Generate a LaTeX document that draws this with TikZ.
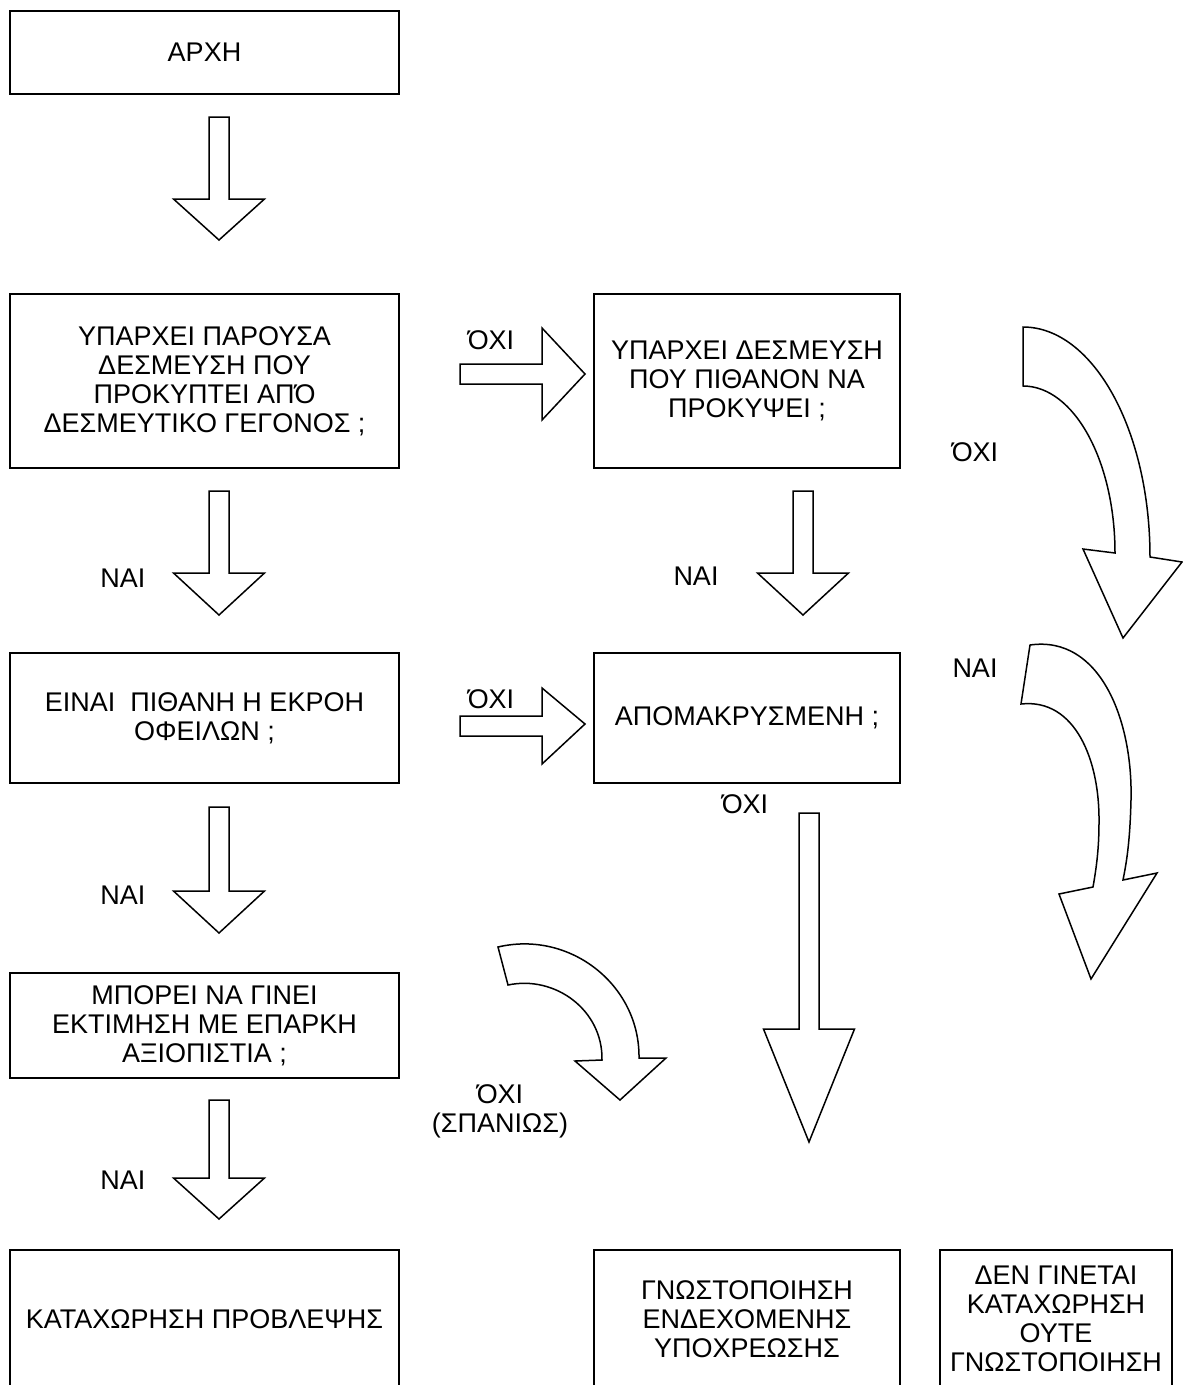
\documentclass[tikz,border=0pt]{standalone}
\usepackage{fontspec}
\setmainfont{Liberation Sans}
\newcommand\dnarrow[4]{% cx, shaft top, head y, tip y
  \draw[arr] (#1-10,#2) -- (#1+10,#2) -- (#1+10,#3) -- (#1+45.5,#3) -- (#1,#4)
    -- (#1-45.5,#3) -- (#1-10,#3) -- cycle;}
\begin{document}
\begin{tikzpicture}[x=1pt,y=-1pt,
  box/.style={draw,line width=2pt,inner sep=0pt,align=center,
    font=\fontsize{27}{29}\selectfont},
  lbl/.style={font=\fontsize{27}{29}\selectfont,align=center,inner sep=0pt},
  arr/.style={draw,line width=1.5pt,fill=white,line join=miter}]
\useasboundingbox (0,0) rectangle (1183,1385);
\clip (0,0) rectangle (1183,1385);
\fill[white] (0,0) rectangle (1183,1385);

% boxes
\node[box,minimum width=389pt,minimum height=83pt] (start) at (204.5,52.5) {ΑΡΧΗ};
\node[box,minimum width=389pt,minimum height=174pt] (q1) at (204.5,381)
  {ΥΠΑΡΧΕΙ ΠΑΡΟΥΣΑ\\ΔΕΣΜΕΥΣΗ ΠΟΥ\\ΠΡΟΚΥΠΤΕΙ ΑΠΌ\\ΔΕΣΜΕΥΤΙΚΟ ΓΕΓΟΝΟΣ ;};
\node[box,minimum width=306pt,minimum height=174pt] (q2) at (747,381)
  {ΥΠΑΡΧΕΙ ΔΕΣΜΕΥΣΗ\\ΠΟΥ ΠΙΘΑΝΟΝ ΝΑ\\ΠΡΟΚΥΨΕΙ ;};
\node[box,minimum width=389pt,minimum height=130pt] (q3) at (204.5,718)
  {ΕΙΝΑΙ\ \ ΠΙΘΑΝΗ Η ΕΚΡΟΗ\\ΟΦΕΙΛΩΝ ;};
\node[box,minimum width=306pt,minimum height=130pt] (q4) at (747,718)
  {ΑΠΟΜΑΚΡΥΣΜΕΝΗ ;};
\node[box,minimum width=389pt,minimum height=105pt] (q5) at (204.5,1025.5)
  {ΜΠΟΡΕΙ ΝΑ ΓΙΝΕΙ\\ΕΚΤΙΜΗΣΗ ΜΕ ΕΠΑΡΚΗ\\ΑΞΙΟΠΙΣΤΙΑ ;};
\node[box,minimum width=389pt,minimum height=138pt] (r1) at (204.5,1319)
  {ΚΑΤΑΧΩΡΗΣΗ ΠΡΟΒΛΕΨΗΣ};
\node[box,minimum width=306pt,minimum height=138pt] (r2) at (747,1319)
  {ΓΝΩΣΤΟΠΟΙΗΣΗ\\ΕΝΔΕΧΟΜΕΝΗΣ\\ΥΠΟΧΡΕΩΣΗΣ};
\node[box,minimum width=232pt,minimum height=138pt] (r3) at (1056,1319)
  {ΔΕΝ ΓΙΝΕΤΑΙ\\ΚΑΤΑΧΩΡΗΣΗ\\ΟΥΤΕ\\ΓΝΩΣΤΟΠΟΙΗΣΗ};

% straight down block arrows
\dnarrow{219}{117}{199}{240}
\dnarrow{219}{491}{573}{615}
\dnarrow{219}{807}{891}{933}
\dnarrow{219}{1100}{1178}{1219}
\dnarrow{803}{491}{573}{615}
\dnarrow{809}{813}{1029}{1142}

% right block arrows
\draw[arr] (460,364) -- (542,364) -- (542,328) -- (585,374) -- (542,420) -- (542,384) -- (460,384) -- cycle;
\draw[arr] (460,716) -- (542,716) -- (542,688) -- (585,724) -- (542,764) -- (542,736) -- (460,736) -- cycle;

% curved arrow, top right
\draw[arr] (1023,327) .. controls (1093,327) and (1150,430) .. (1150,557)
  -- (1182,562) -- (1123,638) -- (1083,549) -- (1115,553)
  .. controls (1115,461) and (1074,386) .. (1023,386) -- cycle;
% curved arrow, lower right
\draw[arr] (1030,645) .. controls (1100,635) and (1133,720) .. (1131,800)
  .. controls (1130,840) and (1127,860) .. (1123,880)
  -- (1157,873) -- (1091,979) -- (1059,894) -- (1093,887)
  .. controls (1096,870) and (1099,850) .. (1099,823)
  .. controls (1100,760) and (1075,698) .. (1021,704) -- cycle;
% curved arrow, middle
\draw[arr] (498,947) .. controls (570,930) and (640,985) .. (639,1058)
  -- (666,1058) -- (620,1100) -- (575,1061) -- (602,1060)
  .. controls (603,1010) and (555,975) .. (508,985) -- cycle;

% labels
\node[lbl] (l1) at (491,340) {ΌΧΙ};
\node[lbl] (l2) at (491,699) {ΌΧΙ};
\node[lbl] (l3) at (123,578) {ΝΑΙ};
\node[lbl] (l4) at (123,895) {ΝΑΙ};
\node[lbl] (l5) at (123,1180) {ΝΑΙ};
\node[lbl] (l6) at (696,576) {ΝΑΙ};
\node[lbl] (l7) at (975,452) {ΌΧΙ};
\node[lbl] (l8) at (975,668) {ΝΑΙ};
\node[lbl] (l9) at (745,804) {ΌΧΙ};
\node[lbl] (l10) at (500,1111) {ΌΧΙ\\(ΣΠΑΝΙΩΣ)};
\end{tikzpicture}
\end{document}
